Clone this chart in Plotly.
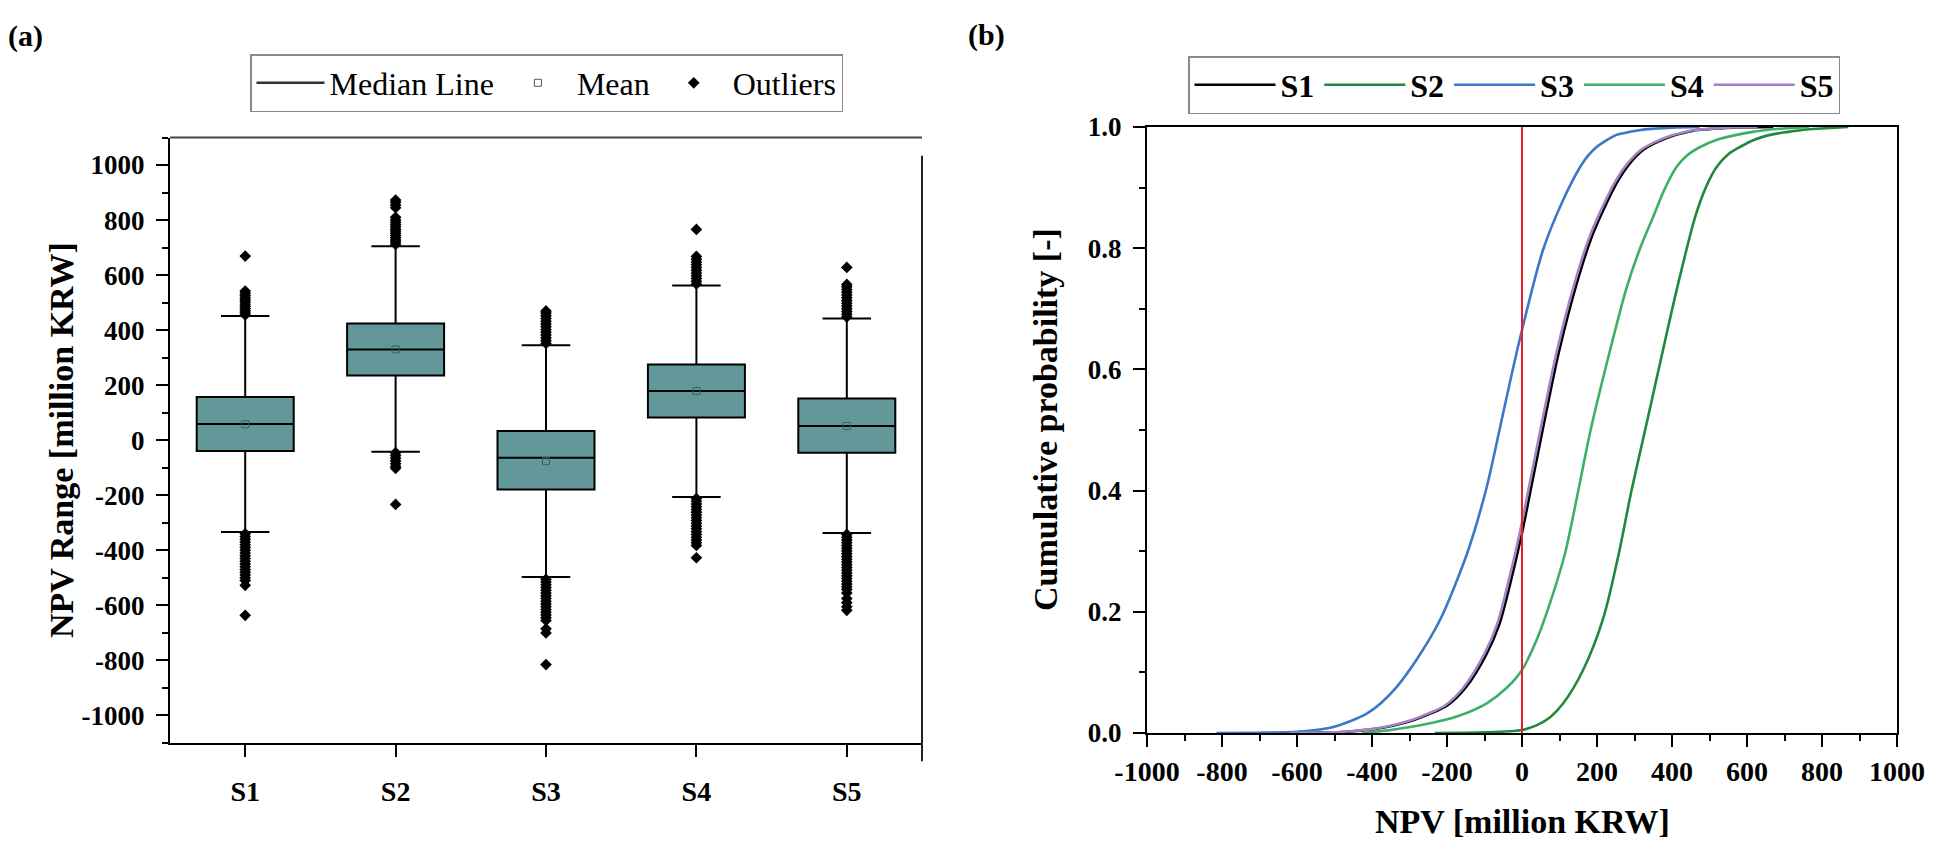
import plotly.graph_objects as go

# ---------------- data ----------------
scenarios = ["S1", "S2", "S3", "S4", "S5"]
q1 = [-39, 235, -179, 83, -45]
median = [59, 330, -64, 179, 52]
q3 = [157, 424, 34, 275, 152]
lower_fence = [-333, -42, -497, -206, -337]
upper_fence = [451, 705, 345, 562, 442]
means = [58, 330, -76, 179, 52]

outliers_S1 = [455, 462, 470, 478, 486, 494, 502, 510, 518, 526, 534, 542, 669,
               -340, -350, -360, -370, -380, -390, -400, -410, -420, -430, -440, -450,
               -460, -470, -480, -490, -500, -510, -527, -636]
outliers_S2 = [712, 720, 728, 736, 744, 752, 760, 768, 776, 784, 792, 800, 810,
               845, 855, 865, 873,
               -45, -55, -65, -75, -85, -95, -102, -233]
outliers_S3 = [352, 362, 372, 382, 392, 402, 412, 422, 432, 442, 452, 462, 470,
               -505, -515, -525, -535, -545, -555, -565, -575, -585, -595, -605, -615,
               -625, -635, -645, -655, -685, -700, -815]
outliers_S4 = [568, 578, 588, 598, 608, 618, 628, 638, 648, 658, 668, 766,
               -212, -222, -232, -242, -252, -262, -272, -282, -292, -302, -312, -322,
               -332, -342, -352, -362, -372, -382, -427]
outliers_S5 = [448, 458, 468, 478, 488, 498, 508, 518, 528, 538, 548, 558, 566, 628,
               -342, -352, -362, -372, -382, -392, -402, -412, -422, -432, -442, -452,
               -462, -472, -482, -492, -502, -512, -522, -532, -542, -555, -575, -590,
               -605, -618]
outliers = [outliers_S1, outliers_S2, outliers_S3, outliers_S4, outliers_S5]

cdf_x_S1 = [-630, -550, -500, -450, -400, -345, -290, -245, -200, -150, -94, -60, -36, 0, 26, 55,
            97, 146, 190, 252, 285, 323, 360, 395, 430, 466, 510, 560, 670]
cdf_p_S1 = [0, 0.0005, 0.001, 0.003, 0.006, 0.012, 0.021, 0.032, 0.045, 0.075, 0.131, 0.18, 0.235,
            0.33, 0.41, 0.50, 0.625, 0.742, 0.825, 0.907, 0.938, 0.962, 0.975, 0.984, 0.990,
            0.995, 0.997, 0.999, 1.0]
cdf_x_S2 = [-233, -100, 0, 40, 75, 110, 163, 217, 256, 292, 332, 377, 412, 461, 490, 519, 550,
            581, 620, 661, 710, 759, 810, 870]
cdf_p_S2 = [0, 0.001, 0.005, 0.013, 0.026, 0.049, 0.104, 0.19, 0.29, 0.40, 0.51, 0.635, 0.73,
            0.85, 0.90, 0.934, 0.955, 0.967, 0.979, 0.987, 0.992, 0.996, 0.998, 1.0]
cdf_x_S3 = [-815, -700, -600, -550, -503, -460, -414, -375, -334, -280, -219, -146, -94, -60, -30,
            0, 56, 110, 155, 175, 199, 225, 252, 280, 315, 350, 400, 473]
cdf_p_S3 = [0, 0.0005, 0.002, 0.005, 0.010, 0.019, 0.032, 0.050, 0.076, 0.122, 0.186, 0.297,
            0.406, 0.5, 0.585, 0.665, 0.797, 0.88, 0.934, 0.952, 0.967, 0.978, 0.987,
            0.991, 0.995, 0.997, 0.999, 1.0]
cdf_x_S4 = [-427, -350, -245, -170, -94, -40, 0, 40, 75, 115, 152, 183, 235, 279, 315, 350, 380,
            412, 440, 475, 520, 572, 615, 661, 710, 766]
cdf_p_S4 = [0, 0.005, 0.016, 0.028, 0.049, 0.075, 0.104, 0.155, 0.215, 0.297, 0.406, 0.5, 0.632,
            0.735, 0.80, 0.852, 0.897, 0.934, 0.953, 0.967, 0.979, 0.987, 0.992, 0.996, 0.998, 1.0]
cdf_x_S5 = [-618, -556, -506, -456, -406, -351, -296, -251, -206, -156, -100, -66, -42, -6, 20, 49,
            91, 140, 184, 246, 279, 317, 354, 389, 424, 460, 504, 550, 628]
cdf_p_S5 = [0, 0.0005, 0.001, 0.003, 0.006, 0.012, 0.021, 0.032, 0.045, 0.075, 0.131, 0.18, 0.235,
            0.33, 0.41, 0.50, 0.625, 0.742, 0.825, 0.907, 0.938, 0.962, 0.975, 0.984, 0.990,
            0.995, 0.997, 0.999, 1.0]

cdf_x = [cdf_x_S1, cdf_x_S2, cdf_x_S3, cdf_x_S4, cdf_x_S5]
cdf_p = [cdf_p_S1, cdf_p_S2, cdf_p_S3, cdf_p_S4, cdf_p_S5]
threshold_npv = 0

left_y_ticks = [-1000, -800, -600, -400, -200, 0, 200, 400, 600, 800, 1000]
left_y_ticktext = ["-1000", "-800", "-600", "-400", "-200", "0", "200", "400", "600", "800", "1000"]
right_x_ticks = [-1000, -800, -600, -400, -200, 0, 200, 400, 600, 800, 1000]
right_x_ticktext = ["-1000", "-800", "-600", "-400", "-200", "0", "200", "400", "600", "800", "1000"]

# ---------------- style ----------------
W, H = 1937, 852
FONT = "Liberation Serif, Times New Roman, serif"
curve_colors = ["#000000", "#1F8A3E", "#3B78C8", "#3DB066", "#A382C6"]
box_fill = "#63989A"


def px_x(p):
    return p / W


def px_y(p):
    return 1 - p / H


fig = go.Figure()

# ---- panel (a) ----
fig.add_trace(go.Scatter(x=[None], y=[None], mode="lines", name="Median Line",
                         line=dict(color="#333333", width=2.5),
                         xaxis="x", yaxis="y", legend="legend"))
fig.add_trace(go.Box(x=scenarios, q1=q1, median=median, q3=q3,
                     lowerfence=lower_fence, upperfence=upper_fence,
                     fillcolor=box_fill, line=dict(color="black", width=2),
                     width=0.645, whiskerwidth=0.5, boxpoints=False,
                     showlegend=False, hoverinfo="skip", xaxis="x", yaxis="y"))
fig.add_trace(go.Scatter(x=scenarios, y=means, mode="markers", name="Mean",
                         marker=dict(symbol="square-open", size=7, color="#3E5F60",
                                     line=dict(width=1, color="#3E5F60")),
                         xaxis="x", yaxis="y", legend="legend"))
ox, oy = [], []
for s, vals in zip(scenarios, outliers):
    ox += [s] * len(vals)
    oy += vals
fig.add_trace(go.Scatter(x=ox, y=oy, mode="markers", name="Outliers",
                         marker=dict(symbol="diamond", size=9, color="black"),
                         xaxis="x", yaxis="y", legend="legend"))

# ---- panel (b) ----
for s, xs, ps, c in zip(scenarios, cdf_x, cdf_p, curve_colors):
    fig.add_trace(go.Scatter(x=xs, y=ps, mode="lines", name=s,
                             line=dict(color=c, width=2.6, shape="spline", smoothing=0.8),
                             xaxis="x2", yaxis="y2", legend="legend2"))
fig.add_trace(go.Scatter(x=[threshold_npv, threshold_npv], y=[0, 1], mode="lines",
                         line=dict(color="#E8202A", width=2), showlegend=False,
                         hoverinfo="skip", xaxis="x2", yaxis="y2"))

ytickfont = dict(family=FONT, size=27, color="black", weight="bold")
xtickfont = dict(family=FONT, size=28, color="black", weight="bold")

fig.update_layout(
    width=W, height=H,
    margin=dict(l=0, r=0, t=0, b=0, autoexpand=False),
    paper_bgcolor="white", plot_bgcolor="white",
    font=dict(family=FONT, color="black"),
    xaxis=dict(domain=[px_x(170), px_x(922)], anchor="y",
               type="category", range=[-0.5, 4.5],
               showline=True, linecolor="black", linewidth=2,
               ticks="outside", ticklen=12, tickwidth=2, tickcolor="black",
               tickfont=xtickfont, ticklabelstandoff=10, showgrid=False, zeroline=False),
    yaxis=dict(domain=[px_y(743), px_y(137.5)], anchor="x",
               range=[-1100, 1100],
               tickmode="array", tickvals=left_y_ticks, ticktext=left_y_ticktext,
               showline=True, linecolor="black", linewidth=2,
               ticks="outside", ticklen=12, tickwidth=2, tickcolor="black",
               minor=dict(ticks="outside", ticklen=6, tickwidth=2, tickcolor="black",
                          tickmode="linear", tick0=0, dtick=100),
               tickfont=ytickfont, ticklabelstandoff=6, showgrid=False, zeroline=False),
    xaxis2=dict(domain=[px_x(1147), px_x(1897)], anchor="y2",
                range=[-1000, 1000],
                tickmode="array", tickvals=right_x_ticks, ticktext=right_x_ticktext,
                showline=True, linecolor="black", linewidth=2, mirror=True,
                ticks="outside", ticklen=12, tickwidth=2, tickcolor="black",
                minor=dict(ticks="outside", ticklen=6, tickwidth=2, tickcolor="black",
                           tickmode="linear", tick0=0, dtick=100),
                tickfont=xtickfont, showgrid=False, zeroline=False),
    yaxis2=dict(domain=[px_y(733), px_y(127)], anchor="x2",
                range=[0, 1], dtick=0.2, tickformat=".1f",
                showline=True, linecolor="black", linewidth=2, mirror=True,
                ticks="outside", ticklen=12, tickwidth=2, tickcolor="black",
                minor=dict(ticks="outside", ticklen=6, tickwidth=2, tickcolor="black",
                           dtick=0.1),
                tickfont=ytickfont, ticklabelstandoff=6, showgrid=False, zeroline=False),
    legend=dict(x=px_x(250), y=px_y(54), xanchor="left", yanchor="top",
                orientation="h", bgcolor="white", bordercolor="#8A8A8A", borderwidth=1.5,
                font=dict(family=FONT, size=32, color="black"),
                itemwidth=68),
    legend2=dict(x=px_x(1188), y=px_y(56), xanchor="left", yanchor="top",
                 orientation="h", bgcolor="white", bordercolor="#8A8A8A", borderwidth=1.5,
                 font=dict(family=FONT, size=32, color="black", weight="bold"),
                 itemwidth=81),
    showlegend=True,
)

# frame lines of panel (a) (top and right, with the small gap seen in the figure)
fig.add_shape(type="line", xref="x domain", yref="y domain", x0=0, x1=1, y0=1, y1=1,
              line=dict(color="#444444", width=2))
fig.add_shape(type="line", xref="x domain", yref="y domain", x0=1, x1=1, y0=-0.03, y1=0.97,
              line=dict(color="#222222", width=2))

ann_font = dict(family=FONT, size=34, color="black", weight="bold")
lab_font = dict(family=FONT, size=30, color="black", weight="bold")
fig.add_annotation(text="(a)", x=px_x(6), y=px_y(36), xref="paper", yref="paper",
                   xanchor="left", yanchor="middle", showarrow=False, font=lab_font)
fig.add_annotation(text="(b)", x=px_x(966), y=px_y(35), xref="paper", yref="paper",
                   xanchor="left", yanchor="middle", showarrow=False, font=lab_font)
fig.add_annotation(text="NPV Range [million KRW]", x=px_x(61), y=px_y(440),
                   xref="paper", yref="paper", textangle=-90, showarrow=False,
                   xanchor="center", yanchor="middle", font=ann_font)
fig.add_annotation(text="Cumulative probability [-]", x=px_x(1045), y=px_y(420),
                   xref="paper", yref="paper", textangle=-90, showarrow=False,
                   xanchor="center", yanchor="middle", font=ann_font)
fig.add_annotation(text="NPV [million KRW]", x=px_x(1522), y=px_y(821),
                   xref="paper", yref="paper", showarrow=False,
                   xanchor="center", yanchor="middle", font=ann_font)

fig.write_html("out.html")
